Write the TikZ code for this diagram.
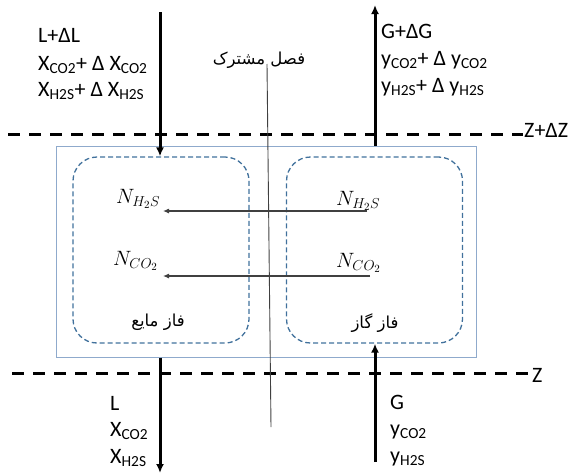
\documentclass[tikz,border=0pt]{standalone}
\usepackage{fontspec}
\setmainfont{Carlito}
\newfontfamily\arabicfont[Script=Arabic]{DejaVu Sans}
\TeXXeTstate=1
\usetikzlibrary{arrows.meta}
\definecolor{boxblue}{RGB}{65,113,156}
\definecolor{cellblue}{RGB}{143,170,204}
\definecolor{fluxgray}{RGB}{64,64,64}
\newcommand{\sbs}[1]{\textsubscript{#1}}

\tikzset{
  level line/.style={line width=3pt, dash pattern=on 12pt off 9pt},
  stream/.style={line width=3pt, -{Latex[length=9pt,width=8pt]}},
  flux/.style={line width=1.1pt, fluxgray, -{Latex[length=6pt,width=5pt]}},
  phasebox/.style={draw=boxblue, line width=1.3pt, dash pattern=on 5pt off 3pt,
    rounded corners=24pt, minimum width=176pt, minimum height=186pt, inner sep=0pt},
  txt/.style={anchor=base west, inner sep=0pt, font=\fontsize{22}{26}\selectfont},
  fluxlbl/.style={anchor=base west, inner sep=0pt, font=\fontsize{21}{24}\selectfont},
  farsi/.style={inner sep=0pt, font=\arabicfont\fontsize{16.5}{20}\selectfont},
}

\begin{document}
\begin{tikzpicture}[x=1pt,y=-1pt]
		\useasboundingbox (0,0) rectangle (572,474);
		%%%%% CELL %%%%%
		\node[draw=cellblue, line width=1pt, minimum width=420pt, minimum height=211pt, inner sep=0pt] (cell) at (266,251.5) {};
		\node[phasebox] (liq) at (161,250) {};
		\node[phasebox] (gas) at (374.5,250) {};
		
		%%%%% LEVELS %%%%%
		\coordinate (ztopL) at (8,134);
		\coordinate (ztopR) at (523,134);
		\draw[level line] (ztopL) -- (ztopR);
		\node[txt] (ztop) at (524,137) {Z+ΔZ};
		
		\coordinate (zbotL) at (12,373);
		\coordinate (zbotR) at (530,373);
		\draw[level line] (zbotL) -- (zbotR);
		\node[txt] (zbot) at (532,382) {Z};
		
		%%%%% STREAMS %%%%%
		\coordinate (Lin) at (160,12);
		\coordinate (Lout) at (160,473);
		\draw[stream] (Lin) -- (Lin |- liq.north);
		\draw[stream] (Lin |- cell.south) -- (Lout);
		
		\coordinate (Gin) at (375,462);
		\coordinate (Gout) at (375,5);
		\draw[stream] (Gin) -- (Gin |- gas.south);
		\draw[stream] (Gin |- cell.north) -- (Gout);
		
		%%%%% INTERFACE %%%%%
		\node[farsi] (iface) at (259,60) {\beginR فصل مشترک\endR};
		\coordinate (ifTop) at (267,64);
		\coordinate (ifBot) at (271,427);
		\draw[fluxgray, line width=0.9pt] (ifTop) -- (ifBot);
		
		%%%%% FLUXES %%%%%
		\node[fluxlbl] (hgas) at (336,205) {$N_{H_2S}$};
		\node[fluxlbl] (hliq) at (116,203) {$N_{H_2S}$};
		\node[fluxlbl] (cgas) at (336,267) {$N_{CO_2}$};
		\node[fluxlbl] (cliq) at (113,265) {$N_{CO_2}$};
		\coordinate (hFrom) at (367,211);
		\coordinate (hTo) at (163,211);
		\coordinate (cFrom) at (370,276);
		\coordinate (cTo) at (163,276);
		\draw[flux] (hFrom) -- (hTo);
		\draw[flux] (cFrom) -- (cTo);
		
		\node[farsi] (liqname) at (158,322) {\beginR فاز مایع\endR};
		\node[farsi] (gasname) at (375,323) {\beginR فاز گاز\endR};
		
		%%%%% LIQUID SIDE %%%%%
		\node[txt] (lTop1) at (38,42) {L+ΔL};
		\node[txt] (lTop2) at (38,70) {X\sbs{CO2}+ Δ X\sbs{CO2}};
		\node[txt] (lTop3) at (38,96) {X\sbs{H2S}+ Δ X\sbs{H2S}};
		\node[txt] (lBot1) at (110,410) {L};
		\node[txt] (lBot2) at (110,436) {X\sbs{CO2}};
		\node[txt] (lBot3) at (110,463) {X\sbs{H2S}};
		
		%%%%% GAS SIDE %%%%%
		\node[txt] (gTop1) at (381,38) {G+ΔG};
		\node[txt] (gTop2) at (381,65) {y\sbs{CO2}+ Δ y\sbs{CO2}};
		\node[txt] (gTop3) at (381,92) {y\sbs{H2S}+ Δ y\sbs{H2S}};
		\node[txt] (gBot1) at (390,409) {G};
		\node[txt] (gBot2) at (390,435) {y\sbs{CO2}};
		\node[txt] (gBot3) at (390,462) {y\sbs{H2S}};
		
		%%%%% END %%%%%
\end{tikzpicture}
\end{document}
